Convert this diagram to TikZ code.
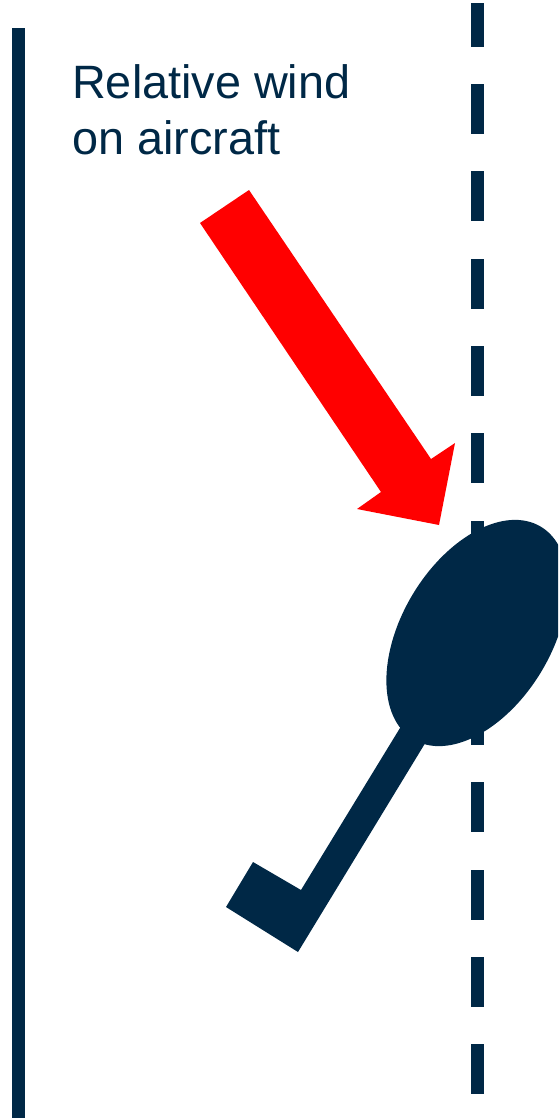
\documentclass[tikz,border=0pt]{standalone}
\usepackage{xcolor}
\usepackage{fontspec}
\setmainfont{Liberation Sans}
\usetikzlibrary{positioning}
\definecolor{navy}{HTML}{002846}

\begin{document}
\begin{tikzpicture}[
  x=1pt, y=-1pt,
  craft/.style={fill=navy, draw=none},
  wind/.style={fill=red, draw=none},
  windtext/.style={text=navy, align=left, inner sep=0pt, anchor=north west, font=\fontsize{46.8}{56}\selectfont}
]
\useasboundingbox (0,0) rectangle (558,1118);

\fill [craft] (12,28) rectangle (24.5,1118);
\fill [craft] (471,3) rectangle (483.5,47);
\foreach \k in {0,...,11}
  \fill [craft] (471,84+87.3*\k) rectangle (483.5,134+87.3*\k);

\node (windlabel) [windtext] at (72,64.5) {Relative wind\\on aircraft};

\fill [wind] (200,223) -- (249,190) -- (431,459) -- (455,443) -- (439,525) -- (357,509) -- (381,492) -- cycle;

\clip (0,0) rectangle (558,1118);
\fill [craft, rotate around={-31:(477,633)}] (477,633) ellipse [x radius=75, y radius=124];
\fill [craft] (411,710) -- (301,890) -- (253,862) -- (226,907) -- (298,952) -- (435,727) -- cycle;
\end{tikzpicture}
\end{document}
